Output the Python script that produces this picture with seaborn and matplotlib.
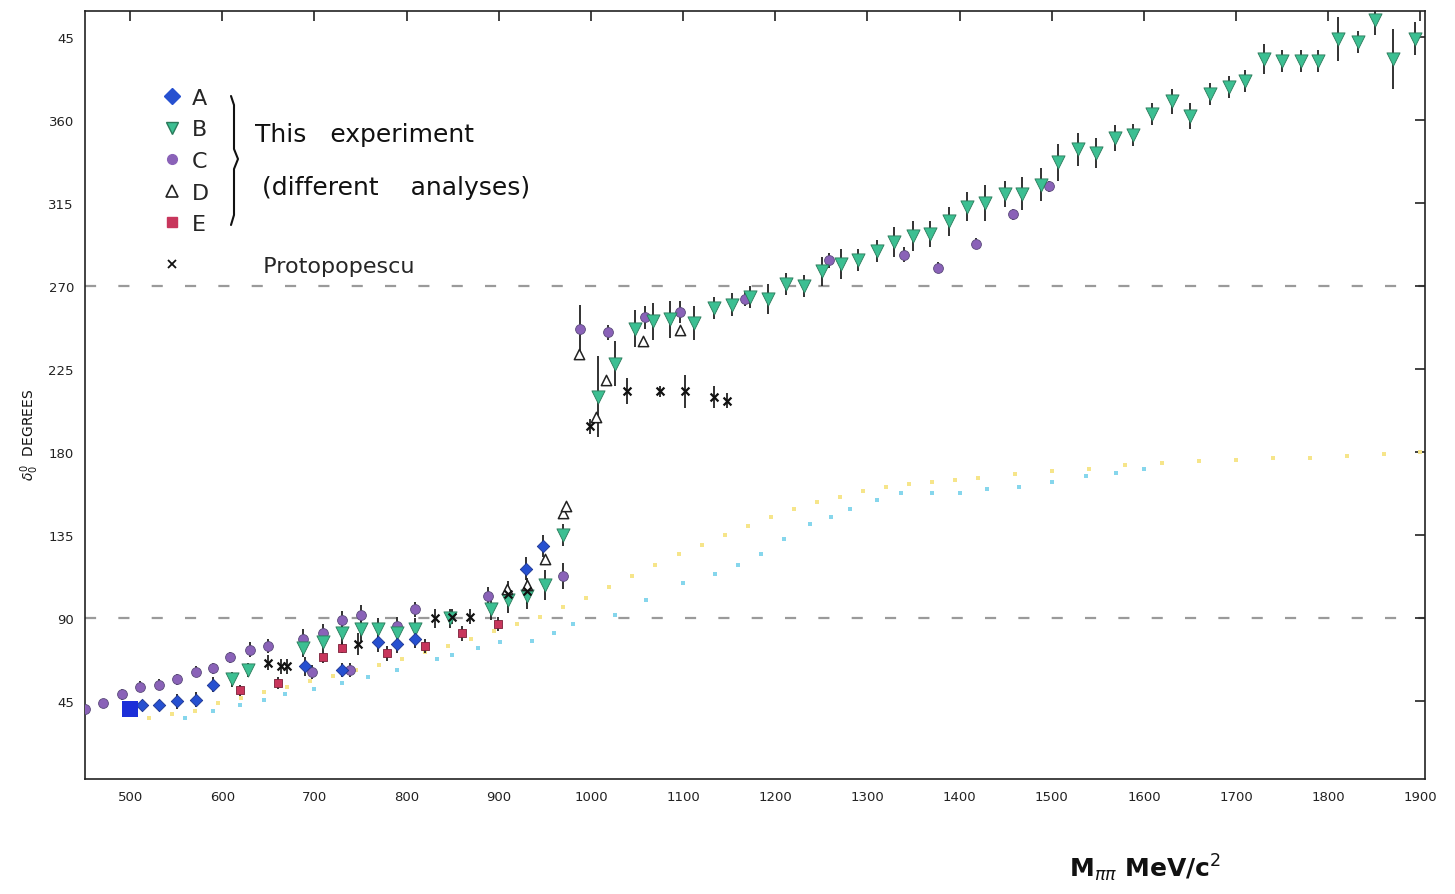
import numpy as np
import pandas as pd
import matplotlib
matplotlib.use("Agg")
import matplotlib.pyplot as plt
from matplotlib.lines import Line2D
import seaborn as sns

# ---------------- data ----------------
# Analysis A (blue diamonds)
a_mass = [513, 531, 551, 571, 590, 690, 730, 769, 790, 809, 929, 948]
a_phase = [43, 43, 45, 46, 54, 64, 62, 77, 76, 79, 117, 129]
a_err = [3, 3, 4, 4, 4, 5, 4, 5, 5, 5, 6, 6]

# big blue square near threshold
sq_mass = [500]
sq_phase = [41]

# Analysis B (green down triangles)
b_mass = [611, 628, 688, 709, 730, 750, 769, 790, 809, 847,
          891, 910, 931, 950, 970, 1008, 1026, 1048, 1067, 1086,
          1112, 1133, 1153, 1173, 1192, 1212, 1231, 1251, 1271, 1290,
          1310, 1329, 1349, 1368, 1388, 1408, 1428, 1449, 1468, 1488,
          1507, 1529, 1548, 1569, 1588, 1609, 1631, 1650, 1672, 1692,
          1710, 1730, 1750, 1770, 1789, 1811, 1832, 1851, 1870, 1894]
b_phase = [57, 62, 74, 77, 82, 84, 84, 82, 84, 90,
           95, 100, 102, 108, 135, 210, 228, 247, 251, 252,
           250, 258, 260, 264, 263, 271, 270, 278, 282, 284,
           289, 294, 297, 298, 305, 313, 315, 320, 320, 325,
           337, 344, 342, 350, 352, 363, 370, 362, 374, 378,
           381, 393, 392, 392, 392, 404, 402, 414, 393, 404]
b_err = [4, 4, 5, 5, 6, 6, 6, 6, 6, 5,
         6, 7, 7, 8, 6, 22, 12, 10, 10, 10,
         9, 6, 6, 6, 8, 6, 6, 8, 8, 6,
         6, 8, 8, 7, 8, 8, 10, 7, 9, 9,
         10, 9, 8, 7, 6, 6, 7, 7, 6, 6,
         6, 8, 6, 6, 6, 12, 6, 8, 16, 9]

# Analysis C (purple circles)
c_mass = [451, 471, 491, 511, 531, 551, 571, 590, 608, 630,
          650, 688, 697, 709, 730, 739, 750, 790, 809, 888,
          970, 988, 1018, 1059, 1097, 1167, 1258, 1340, 1377, 1418,
          1458, 1497]
c_phase = [41, 44, 49, 53, 54, 57, 61, 63, 69, 73,
           75, 79, 61, 82, 89, 62, 92, 86, 95, 102,
           113, 247, 245, 253, 256, 263, 284, 287, 280, 293,
           309, 324]
c_err = [2, 2, 3, 3, 3, 3, 3, 3, 3, 4,
         4, 5, 4, 5, 5, 4, 5, 5, 4, 5,
         7, 13, 4, 6, 6, 4, 4, 4, 3, 3,
         3, 3]

# Analysis D (open triangles)
d_mass = [909, 931, 950, 970, 973, 987, 1006, 1016, 1056, 1097]
d_phase = [106, 108, 122, 147, 151, 233, 199, 219, 240, 246]

# Analysis E (red squares)
e_mass = [619, 660, 709, 730, 779, 820, 860, 899]
e_phase = [51, 55, 69, 74, 71, 75, 82, 87]
e_err = [3, 3, 3, 3, 4, 4, 4, 4]

# Protopopescu (black crosses)
p_mass = [650, 664, 670, 747, 831, 849, 869, 910, 931,
          999, 1039, 1075, 1102, 1133, 1148]
p_phase = [66, 64, 64, 76, 90, 91, 91, 103, 105,
           194, 213, 213, 213, 210, 208]
p_err = [4, 4, 4, 6, 5, 4, 4, 7, 7,
         4, 7, 3, 9, 6, 4]

# theoretical curves (dotted)
y_mass = [520, 545, 570, 595, 620, 645, 670, 695, 720, 745, 770, 795, 820,
          845, 870, 895, 920, 945, 970, 995, 1020, 1045, 1070, 1095, 1120,
          1145, 1170, 1195, 1220, 1245, 1270, 1295, 1320, 1345, 1370, 1395,
          1420, 1460, 1500, 1540, 1580, 1620, 1660, 1700, 1740, 1780, 1820,
          1860, 1900]
y_phase = [36, 38, 40, 44, 47, 50, 53, 56, 59, 62, 65, 68, 72,
           75, 79, 83, 87, 91, 96, 101, 107, 113, 119, 125, 130,
           135, 140, 145, 149, 153, 156, 159, 161, 163, 164, 165,
           166, 168, 170, 171, 173, 174, 175, 176, 177, 177, 178,
           179, 180]
cy_mass = [560, 590, 619, 645, 668, 700, 730, 758, 790, 833, 849, 877, 901,
           936, 960, 981, 1026, 1060, 1100, 1135, 1160, 1184, 1210, 1238,
           1260, 1281, 1310, 1336, 1370, 1400, 1430, 1464, 1500, 1537, 1570,
           1600]
cy_phase = [36, 40, 43, 46, 49, 52, 55, 58, 62, 68, 70, 74, 77,
            78, 82, 87, 92, 100, 109, 114, 119, 125, 133, 141,
            145, 149, 154, 158, 158, 158, 160, 161, 164, 167, 169,
            171]

x_ticks = [500, 600, 700, 800, 900, 1000, 1100, 1200, 1300, 1400, 1500,
           1600, 1700, 1800, 1900]
y_ticks = [45, 90, 135, 180, 225, 270, 315, 360, 405]
y_ticklabels = ["45", "90", "135", "180", "225", "270", "315", "360", "45"]
legend_labels = ["A", "B", "C", "D", "E"]

# ---------------- style ----------------
sns.set_theme(style="white")
plt.rcParams['font.family'] = ['DejaVu Sans']

COL_A = "#2650d0"
COL_B = "#3cbf92"
COL_C = "#8a62b8"
COL_E = "#c8365c"
COL_Y = "#f6e58a"
COL_CY = "#86d6ec"

W, H = 1455, 895
fig = plt.figure(figsize=(W / 100, H / 100), dpi=100)
ax = fig.add_axes([85 / W, 1 - 780 / H, (1425 - 85) / W, (780 - 12) / H])

# reference dashed lines
for yv in (90, 270):
    ax.axhline(yv, color="#9a9a9a", lw=1.6, ls=(0, (5, 10)), zorder=0)

# theory dotted curves
sns.scatterplot(x=y_mass, y=y_phase, ax=ax, color=COL_Y, marker="s", s=12,
                linewidth=0, zorder=1)
sns.scatterplot(x=cy_mass, y=cy_phase, ax=ax, color=COL_CY, marker="s", s=12,
                linewidth=0, zorder=1)

# error bars
eb = dict(fmt="none", ecolor="#222222", elinewidth=1.3, capsize=0, zorder=2)
ax.errorbar(b_mass, b_phase, yerr=b_err, **eb)
ax.errorbar(c_mass, c_phase, yerr=c_err, **eb)
ax.errorbar(a_mass, a_phase, yerr=a_err, **eb)
ax.errorbar(e_mass, e_phase, yerr=e_err, **eb)
ax.errorbar(p_mass, p_phase, yerr=p_err, **eb)

# data points
sns.scatterplot(x=c_mass, y=c_phase, ax=ax, color=COL_C, marker="o", s=50,
                edgecolor="#5a4a7a", linewidth=0.6, zorder=3)
sns.scatterplot(x=b_mass, y=b_phase, ax=ax, color=COL_B, marker="v", s=90,
                edgecolor="#2a7a5a", linewidth=0.6, zorder=4)
sns.scatterplot(x=a_mass, y=a_phase, ax=ax, color=COL_A, marker="D", s=40,
                edgecolor="#1c3490", linewidth=0.6, zorder=4)
sns.scatterplot(x=sq_mass, y=sq_phase, ax=ax, color="#1c2fd8", marker="s",
                s=140, linewidth=0, zorder=4)
sns.scatterplot(x=e_mass, y=e_phase, ax=ax, color=COL_E, marker="s", s=36,
                edgecolor="#7a2038", linewidth=0.6, zorder=4)
sns.scatterplot(x=d_mass, y=d_phase, ax=ax, marker="^", s=55,
                facecolor="white", edgecolor="#222222", linewidth=1.1, zorder=5)
sns.scatterplot(x=p_mass, y=p_phase, ax=ax, color="#111111", marker="x",
                s=32, linewidth=1.6, zorder=5)

# axes
ax.set_xlim(451, 1905)
ax.set_ylim(3, 419)
ax.set_xticks(x_ticks)
ax.set_xticklabels([str(v) for v in x_ticks])
ax.set_yticks(y_ticks)
ax.set_yticklabels(y_ticklabels)
ax.tick_params(direction="in", length=7, width=1.2, top=True, right=True,
               labelsize=9.5, colors="#222222", pad=8)
for sp in ax.spines.values():
    sp.set_color("#222222")
    sp.set_linewidth(1.2)
ax.set_xlabel("")
ax.set_ylabel("")

# legend (A-E)
mk = [dict(marker="D", color="w", markerfacecolor=COL_A, markeredgecolor=COL_A, markersize=8),
      dict(marker="v", color="w", markerfacecolor=COL_B, markeredgecolor="#2a7a5a", markersize=9),
      dict(marker="o", color="w", markerfacecolor=COL_C, markeredgecolor=COL_C, markersize=7),
      dict(marker="^", color="w", markerfacecolor="white", markeredgecolor="#222222", markersize=8, markeredgewidth=1.2),
      dict(marker="s", color="w", markerfacecolor=COL_E, markeredgecolor=COL_E, markersize=7)]
handles = [Line2D([], [], lw=0, **m) for m in mk]
leg1 = ax.legend(handles, legend_labels, loc="upper left",
                 bbox_to_anchor=((150 - 85) / 1340, 1 - (80 - 12) / 768),
                 frameon=False, fontsize=16, handletextpad=0.3,
                 labelspacing=0.52, handlelength=1.2, borderaxespad=0)
ax.add_artist(leg1)
h2 = [Line2D([], [], lw=0, marker="x", color="#111111", markersize=6, markeredgewidth=1.3)]
leg2 = ax.legend(h2, ["          Protopopescu"], loc="upper left",
                 bbox_to_anchor=((150 - 85) / 1340, 1 - (248 - 12) / 768),
                 frameon=False, fontsize=16, handletextpad=0.3,
                 handlelength=1.2, borderaxespad=0)

# brace and group text
px = [(231, 97), (234, 106), (234, 150), (238, 160), (234, 170), (234, 216), (231, 226)]
fig.add_artist(Line2D([p[0] / W for p in px], [1 - p[1] / H for p in px],
                      color="#111111", lw=1.5))
fig.text(255 / W, 1 - 135 / H, "This   experiment", fontsize=18,
         va="center", ha="left", color="#111111")
fig.text(262 / W, 1 - 188 / H, "(different    analyses)", fontsize=18,
         va="center", ha="left", color="#111111")

# axis titles
fig.text(1145 / W, 1 - 868 / H, r"M$_{\pi\pi}$ MeV/c$^2$", fontsize=18,
         fontweight="bold", ha="center", va="center", color="#111111")
fig.text(30 / W, 1 - 435 / H, r"$\delta_0^0$  DEGREES", fontsize=10,
         rotation=90, ha="center", va="center", color="#111111")

fig.savefig("out.png", dpi=100, facecolor="white")
